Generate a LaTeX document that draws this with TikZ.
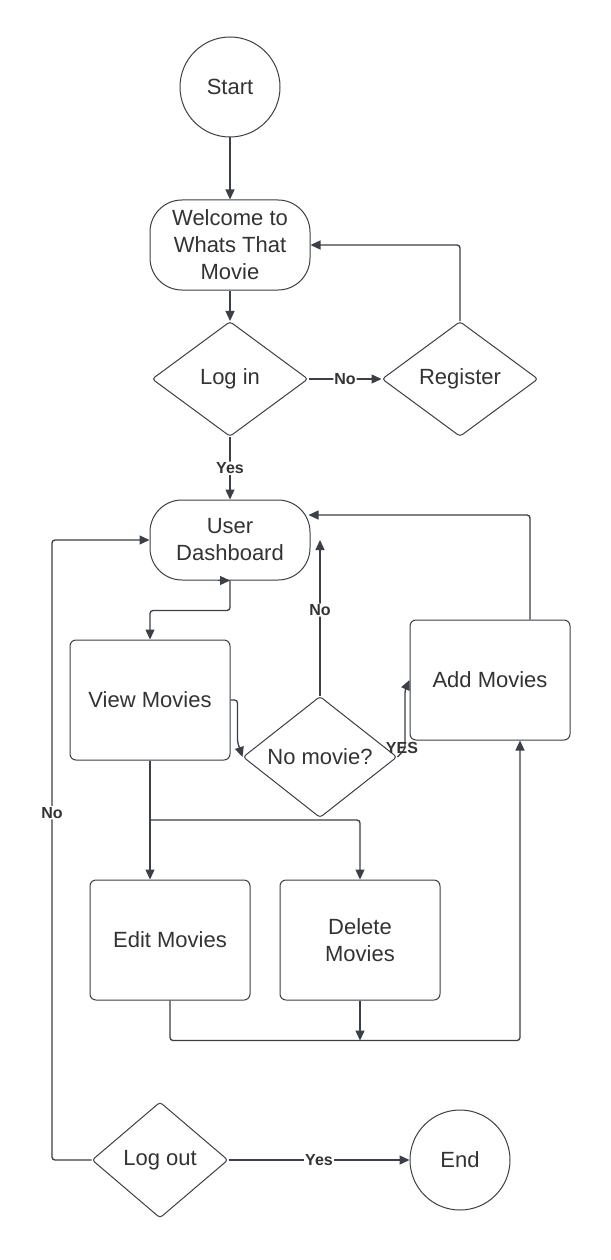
\documentclass[tikz,border=0pt]{standalone}
\usepackage{fontspec}
\setmainfont{Liberation Sans}
\usetikzlibrary{shapes.geometric,arrows.meta}
\definecolor{ln}{HTML}{3A3F48}
\definecolor{tx}{HTML}{333333}
\begin{document}
\begin{tikzpicture}[x=1pt,y=-1pt,
  every node/.style={text=tx, font=\fontsize{22}{27}\selectfont, align=center},
  box/.style={draw=ln, line width=1pt, rounded corners=6pt, minimum width=160pt, minimum height=120pt, inner sep=0pt},
  term/.style={draw=ln, line width=1pt, rounded corners=32pt, minimum width=160pt, inner sep=0pt},
  dec/.style={draw=ln, line width=1pt, diamond, rounded corners=3pt, inner sep=0pt},
  circ/.style={draw=ln, line width=1pt, circle, minimum size=100pt, inner sep=0pt},
  conn/.style={draw=ln, line width=1.3pt, rounded corners=3pt, -{Triangle[length=10pt,width=9pt]}},
  lab/.style={fill=white, text=tx, font=\fontsize{16}{18}\selectfont\bfseries, inner sep=1pt}
]
\useasboundingbox[fill=white] (0,0) rectangle (610,1260);

\node[circ] (start) at (230,87) {Start};
\node[term, minimum height=90pt] (wel) at (230,245) {Welcome to\\Whats That\\Movie};
\node[dec, minimum width=156pt, minimum height=115pt] (login) at (230,379) {Log in};
\node[dec, minimum width=156pt, minimum height=115pt] (reg) at (460,379) {Register};
\node[term, minimum height=80pt] (dash) at (230,540) {User\\Dashboard};
\node[box] (view) at (150,700) {View Movies};
\node[dec, minimum width=154pt, minimum height=115pt] (nom) at (320,757) {No movie?};
\node[box] (add) at (490,680) {Add Movies};
\node[box] (edit) at (170,940) {Edit Movies};
\node[box] (del) at (360,940) {Delete\\Movies};
\node[dec, minimum width=136pt, minimum height=116pt] (out) at (160,1160) {Log out};
\node[circ] (end) at (460,1160) {End};

\coordinate (nol) at (52,540);
\coordinate (nomtip) at (320,540);
\coordinate (ya) at (405,749);
\coordinate (yb) at (405,690);
\coordinate (br) at (150,820);

\draw[conn] (start) -- (wel);
\draw[conn] (wel) -- (login);
\draw[conn] (login) -- node[lab]{No} (reg);
\draw[conn] (reg.north) |- (wel.east);
\draw[conn] (login) -- node[lab]{Yes} (dash);
\draw[conn] (out.west) -| node[lab, pos=0.78]{No} (nol) -- (dash.west);
\draw[conn] (dash.south) -- ++(0,30) -| (view.north);
\draw[conn] ([xshift=-12pt]dash.south) -- (dash.south);
\draw[conn] (view.east) -- ++(7,0) -- ++(0,42) -- (nom.west);
\draw[conn] (nom.north) -- node[lab, pos=0.55]{No} (nomtip);
\draw[conn] (nom.east) -- (ya) -- (yb) -- (add.west);
\node[lab, fill=none] at (402,748) {YES};
\draw[conn] ([xshift=40pt]add.north) |- ([xshift=-2pt,yshift=25pt]dash.east);
\draw[conn] (view.south) -- (view.south |- edit.north);
\draw[conn] (br) -| (del.north);
\draw[conn] (edit.south) -- ++(0,40) -| ([xshift=30pt]add.south);
\draw[conn] (del.south) -- ++(0,40);
\draw[conn] (out) -- node[lab]{Yes} (end);
\end{tikzpicture}
\end{document}
